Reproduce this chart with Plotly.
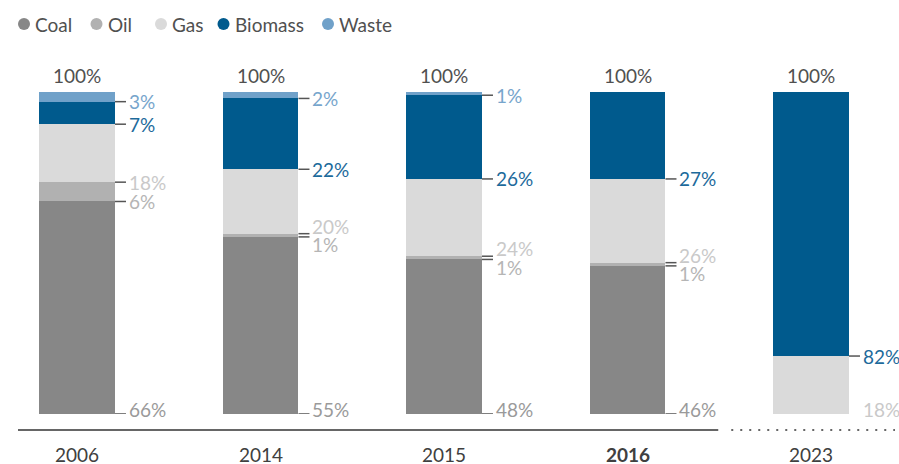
import plotly.graph_objects as go

# ---- data ----
years = ["2006", "2014", "2015", "2016", "2023"]
coal = [66, 55, 48, 46, 0]
oil = [6, 1, 1, 1, 0]
gas = [18, 20, 24, 26, 18]
biomass = [7, 22, 26, 27, 82]
waste = [3, 2, 1, 0, 0]
totals = ["100%", "100%", "100%", "100%", "100%"]
bold_year = "2016"

series = [
    ("Coal", coal, "#878787", "#9a9a9a"),
    ("Oil", oil, "#b1b1b1", "#b5b5b5"),
    ("Gas", gas, "#dadada", "#c9c9c9"),
    ("Biomass", biomass, "#005a8d", "#1d6a9b"),
    ("Waste", waste, "#70a1c9", "#77a5cc"),
]

FONT = "Lato, 'Noto Sans', sans-serif"
FS = 19
W, H = 899, 464
ML, MR, MT, MB = 18, 4, 92, 50
PW, PH = W - ML - MR, H - MT - MB
UNIT = 183.5                     # px per category
X0 = 77                          # px of first category centre
XR = [(ML - X0) / UNIT, (W - MR - X0) / UNIT]
PXY = PH / 100.0                 # px per percent
BW = 0.414
HALF = BW / 2
TICK = 11 / UNIT
GAP = 12 / UNIT
SEP = 18.5

xs = list(range(len(years)))

fig = go.Figure()
for name, vals, col, _ in series:
    fig.add_trace(go.Bar(x=xs, y=vals, name=name, marker=dict(color=col, line=dict(width=0)),
                         width=BW, showlegend=False,
                         hovertemplate=name + " %{y}%<extra></extra>"))

shapes = []
annotations = []

# segment labels with ticks
for i, yr in enumerate(years):
    cum = 0
    items = []
    for name, vals, col, lcol in series:
        v = vals[i]
        if v > 0:
            items.append(dict(y=cum, v=v, lcol=lcol, bottom=(cum == 0), tick=not (cum == 0 and coal[i] == 0)))
        cum += v
    offs = [0.0] * len(items)          # pixel offsets, positive = down
    for k, it in enumerate(items):
        if it["bottom"]:
            offs[k] = -5.0
    for k in range(len(items) - 1):
        a, b = items[k], items[k + 1]
        if a["bottom"]:
            continue
        d = (b["y"] - a["y"]) * PXY
        if d < SEP:
            s = (SEP - d) / 2
            offs[k] += s
            offs[k + 1] -= s
    for k, it in enumerate(items):
        if it["tick"]:
            shapes.append(dict(type="line", xref="x", yref="y",
                               x0=i + HALF, x1=i + HALF + TICK, y0=it["y"], y1=it["y"],
                               line=dict(color="#555555", width=1.5)))
        annotations.append(dict(x=i + HALF + GAP, y=it["y"], xref="x", yref="y",
                                text=f"{it['v']}%", showarrow=False, xanchor="left", yanchor="middle",
                                yshift=-offs[k],
                                font=dict(family=FONT, size=FS, color=it["lcol"])))
    annotations.append(dict(x=i, y=cum, xref="x", yref="y", text=totals[i], showarrow=False,
                            xanchor="center", yanchor="middle", yshift=17,
                            font=dict(family=FONT, size=FS, color="#505050")))
    txt = f"<b>{yr}</b>" if yr == bold_year else yr
    annotations.append(dict(x=i, y=0, xref="x", yref="y", text=txt, showarrow=False,
                            xanchor="center", yanchor="middle", yshift=-40,
                            font=dict(family=FONT, size=FS, color="#404040")))

# baseline: solid up to the gap, dotted for the projection
axis_y = -16 / PH
split = (len(years) - 2) + 0.5
shapes.append(dict(type="line", xref="x", yref="paper", x0=XR[0], x1=split - 1 / UNIT,
                   y0=axis_y, y1=axis_y, line=dict(color="#666666", width=2)))
shapes.append(dict(type="line", xref="x", yref="paper", x0=split + 12 / UNIT, x1=XR[1],
                   y0=axis_y, y1=axis_y, line=dict(color="#666666", width=2, dash="2px,7px")))

# legend (circles + text)
leg_cx = [24, 96.5, 161, 223.5, 328]
leg_cy = 24
for (name, _, col, _), cx in zip(series, leg_cx):
    px_ = (cx - ML) / PW
    py_ = (H - MB - leg_cy) / PH
    shapes.append(dict(type="circle", xref="paper", yref="paper",
                       xsizemode="pixel", ysizemode="pixel", xanchor=px_, yanchor=py_,
                       x0=-6, x1=6, y0=-6, y1=6, fillcolor=col, line=dict(width=0)))
    annotations.append(dict(x=(cx + 9 - ML) / PW, y=py_, xref="paper", yref="paper",
                            text=name, showarrow=False, xanchor="left", yanchor="middle",
                            font=dict(family=FONT, size=FS, color="#505050")))

fig.update_layout(
    width=W, height=H, barmode="stack",
    margin=dict(l=ML, r=MR, t=MT, b=MB, pad=0),
    paper_bgcolor="white", plot_bgcolor="white",
    xaxis=dict(range=XR, visible=False, fixedrange=True),
    yaxis=dict(range=[0, 100], visible=False, fixedrange=True),
    shapes=shapes, annotations=annotations,
    font=dict(family=FONT),
)

fig.write_html("out.html", config={"displayModeBar": False},
               post_script="document.body.style.margin='0';document.body.style.overflow='hidden';")
